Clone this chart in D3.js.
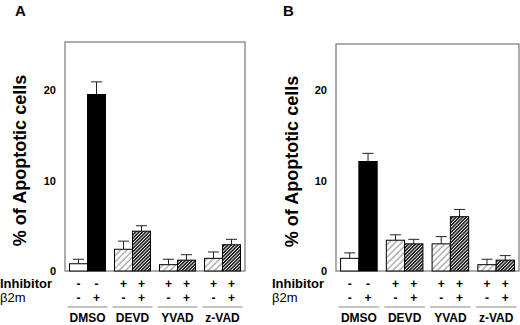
<!DOCTYPE html>
<html>
<head>
<meta charset="utf-8">
<script src="https://cdn.jsdelivr.net/npm/d3@7"></script>
<style>
  body { margin: 0; background: #fff; }
  svg { display: block; font-family: "Liberation Sans", Arial, sans-serif; }
</style>
</head>
<body>
<div id="chart"></div>
<script>
// Data
const groups = ['DMSO', 'DEVD', 'YVAD', 'z-VAD'];
const b2mLevels = ['-', '+'];
const inhibitorSigns = ['-', '-', '+', '+', '+', '+', '+', '+'];
const b2mSigns = ['-', '+', '-', '+', '-', '+', '-', '+'];
const yTicks = [0, 10, 20];

const panelAValues = [0.8, 19.5, 2.4, 4.4, 0.7, 1.2, 1.4, 2.9];
const panelAErrors = [0.5, 1.4, 0.9, 0.6, 0.6, 0.6, 0.7, 0.6];
const panelBValues = [1.4, 12.1, 3.4, 3.0, 3.0, 6.0, 0.7, 1.2];
const panelBErrors = [0.6, 0.9, 0.6, 0.5, 0.8, 0.8, 0.6, 0.5];

const width = 520, height = 325;

const svg = d3.select('#chart').append('svg')
    .attr('width', width)
    .attr('height', height);

// Hatch patterns
const defs = svg.append('defs');
defs.append('pattern')
    .attr('id', 'hatchLight')
    .attr('patternUnits', 'userSpaceOnUse')
    .attr('width', 4.5).attr('height', 4.5)
    .attr('patternTransform', 'rotate(45)')
  .call(p => {
    p.append('rect').attr('width', 4.5).attr('height', 4.5).attr('fill', '#fff');
    p.append('line').attr('x1', 1).attr('y1', 0).attr('x2', 1).attr('y2', 4.5)
        .attr('stroke', '#777').attr('stroke-width', 0.9);
  });
defs.append('pattern')
    .attr('id', 'hatchDark')
    .attr('patternUnits', 'userSpaceOnUse')
    .attr('width', 2.4).attr('height', 2.4)
    .attr('patternTransform', 'rotate(45)')
  .call(p => {
    p.append('rect').attr('width', 2.4).attr('height', 2.4).attr('fill', '#fff');
    p.append('line').attr('x1', 0.8).attr('y1', 0).attr('x2', 0.8).attr('y2', 2.4)
        .attr('stroke', '#111').attr('stroke-width', 1.5);
  });

function barFill(i) {
  if (i === 0) return '#fff';
  if (i === 1) return '#000';
  return i % 2 === 0 ? 'url(#hatchLight)' : 'url(#hatchDark)';
}

function drawPanel(cfg) {
  const g = svg.append('g');

  const x = d3.scaleBand()
      .domain(groups)
      .range([cfg.left, cfg.right])
      .paddingInner(0.2)
      .paddingOuter(0.1);

  const xInner = d3.scaleBand()
      .domain(b2mLevels)
      .range([0, x.bandwidth()]);

  const y = d3.scaleLinear()
      .domain([0, 20])
      .range([cfg.bottom, 90]);

  const rows = cfg.values.map((v, i) => ({
    group: groups[Math.floor(i / 2)],
    b2m: b2mSigns[i],
    inhibitor: inhibitorSigns[i],
    value: v,
    err: cfg.errors[i],
    i: i
  }));
  const bx = d => x(d.group) + xInner(d.b2m);

  // Frame
  g.append('rect')
      .attr('x', cfg.left).attr('y', cfg.top)
      .attr('width', cfg.right - cfg.left)
      .attr('height', cfg.bottom - cfg.top)
      .attr('fill', 'none')
      .attr('stroke', '#777')
      .attr('stroke-width', 1.2);

  // Y tick labels
  g.selectAll('.ytick')
    .data(yTicks)
    .join('text')
      .attr('x', cfg.left - 9)
      .attr('y', d => y(d) + 4)
      .attr('text-anchor', 'end')
      .attr('font-size', 11)
      .attr('font-weight', 'bold')
      .text(d => d);

  // Error bars (upper only)
  g.selectAll('.err')
    .data(rows)
    .join('path')
      .attr('d', d => {
        const cx = bx(d) + xInner.bandwidth() / 2;
        const top = y(d.value + d.err);
        return `M${cx},${y(d.value)}V${top}M${cx - 5.5},${top}H${cx + 5.5}`;
      })
      .attr('stroke', '#222')
      .attr('stroke-width', 1)
      .attr('fill', 'none');

  // Bars
  g.selectAll('.bar')
    .data(rows)
    .join('rect')
      .attr('x', d => bx(d))
      .attr('y', d => y(d.value))
      .attr('width', xInner.bandwidth())
      .attr('height', d => y(0) - y(d.value))
      .attr('fill', d => barFill(d.i))
      .attr('stroke', '#000')
      .attr('stroke-width', 1);

  // Y axis title
  g.append('text')
      .attr('transform', `translate(${cfg.titleX},${(cfg.top + cfg.bottom) / 2 + 4}) rotate(-90)`)
      .attr('text-anchor', 'middle')
      .attr('dy', '0.35em')
      .attr('font-size', 18)
      .attr('font-weight', 'bold')
      .text('% of Apoptotic cells');

  // Panel letter
  g.append('text')
      .attr('x', cfg.letterX).attr('y', 16)
      .attr('font-size', 15)
      .attr('font-weight', 'bold')
      .text(cfg.letter);

  // Condition rows under the axis
  g.append('text')
      .attr('x', cfg.rowX).attr('y', 288)
      .attr('font-size', 13)
      .attr('font-weight', 'bold')
      .text('Inhibitor');
  g.append('text')
      .attr('x', cfg.rowX).attr('y', 302)
      .attr('font-size', 13)
      .text('β2m');

  g.selectAll('.sign1')
    .data(rows)
    .join('text')
      .attr('x', d => bx(d) + xInner.bandwidth() / 2)
      .attr('y', 288)
      .attr('text-anchor', 'middle')
      .attr('font-size', 12)
      .attr('font-weight', 'bold')
      .text(d => d.inhibitor);
  g.selectAll('.sign2')
    .data(rows)
    .join('text')
      .attr('x', d => bx(d) + xInner.bandwidth() / 2)
      .attr('y', 302)
      .attr('text-anchor', 'middle')
      .attr('font-size', 12)
      .attr('font-weight', 'bold')
      .text(d => d.b2m);

  // Group underlines and names
  g.selectAll('.gline')
    .data(groups)
    .join('line')
      .attr('x1', d => x(d) - 2)
      .attr('x2', d => x(d) + x.bandwidth() + 2)
      .attr('y1', 307).attr('y2', 307)
      .attr('stroke', '#888')
      .attr('stroke-width', 1);
  g.selectAll('.gname')
    .data(groups)
    .join('text')
      .attr('x', d => x(d) + x.bandwidth() / 2)
      .attr('y', 322)
      .attr('text-anchor', 'middle')
      .attr('font-size', 12)
      .attr('font-weight', 'bold')
      .text(d => d);
}

drawPanel({
  letter: 'A', letterX: 15, titleX: 20, rowX: 0,
  left: 65, right: 245, top: 42, bottom: 271,
  values: panelAValues, errors: panelAErrors
});
drawPanel({
  letter: 'B', letterX: 283, titleX: 292, rowX: 272,
  left: 336, right: 519, top: 44, bottom: 271,
  values: panelBValues, errors: panelBErrors
});
</script>
</body>
</html>
